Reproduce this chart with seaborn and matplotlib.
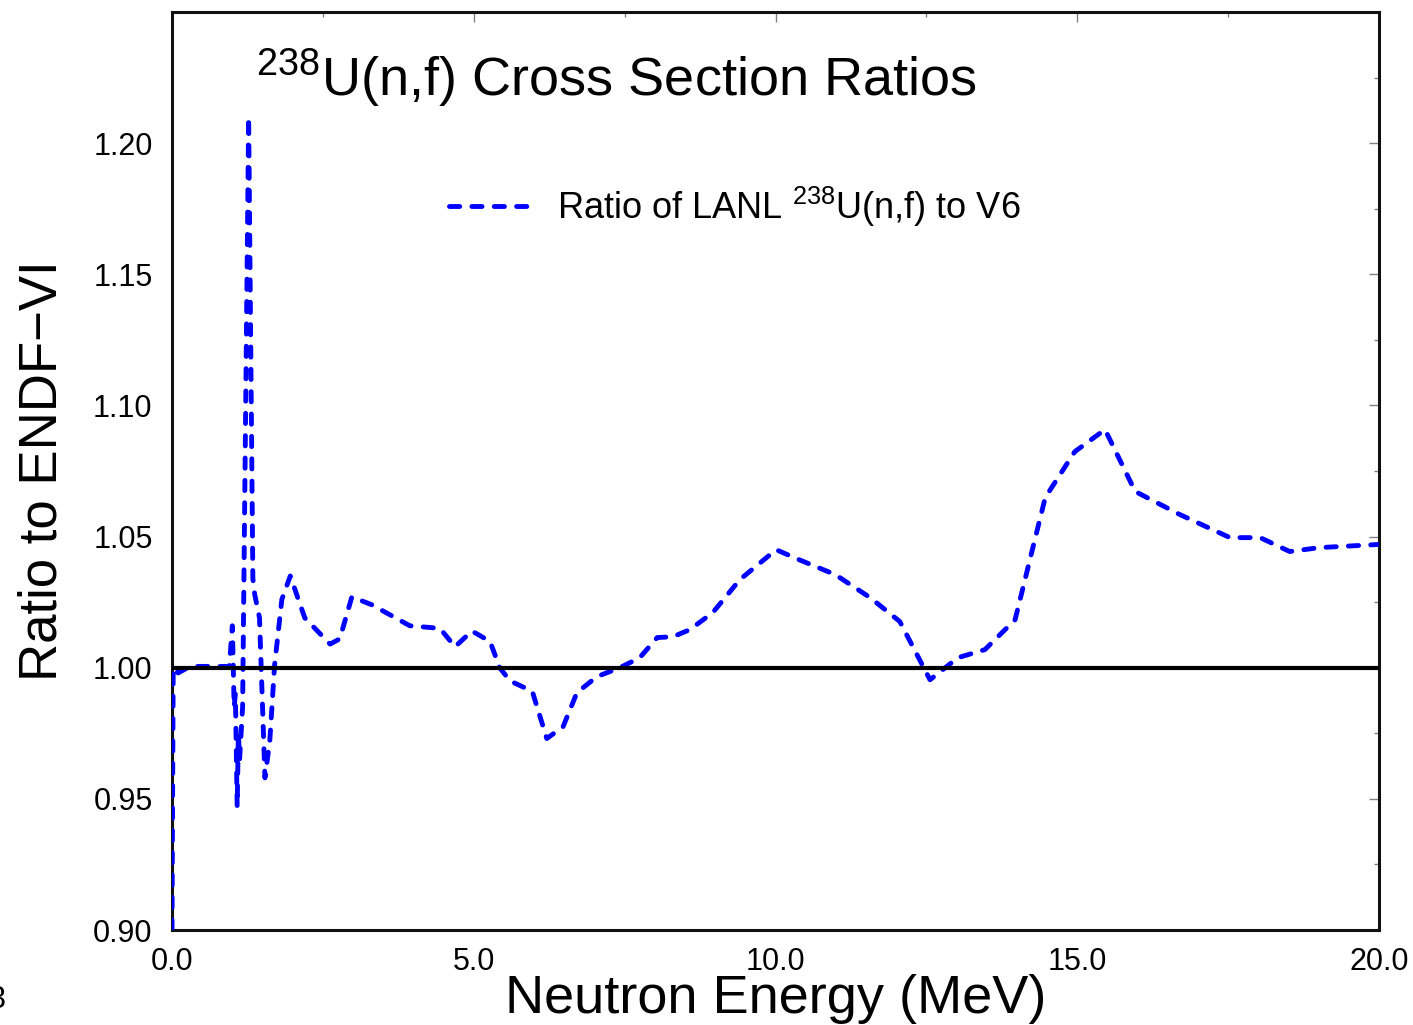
import numpy as np
import pandas as pd
import matplotlib
matplotlib.use("Agg")
import matplotlib.pyplot as plt
from matplotlib.ticker import MultipleLocator, FormatStrFormatter
import seaborn as sns

# Neutron energy (MeV) and ratio of the LANL 238U(n,f) evaluation to ENDF/B-VI
energy = [0.0, 0.02, 0.10, 0.30, 0.60, 0.95, 1.00, 1.03, 1.05, 1.08, 1.10, 1.12,
          1.17, 1.27, 1.34, 1.37, 1.45, 1.54, 1.62, 1.70, 1.82, 1.96, 2.20, 2.62,
          2.78, 2.98, 3.31, 3.94, 4.44, 4.69, 4.97, 5.27, 5.43, 5.60, 5.97, 6.21,
          6.48, 6.71, 7.04, 7.42, 7.75, 8.04, 8.30, 8.58, 8.96, 9.41, 10.01, 10.41,
          10.99, 11.57, 12.06, 12.56, 13.02, 13.47, 13.97, 14.47, 14.96, 15.46,
          15.96, 16.70, 17.53, 18.03, 18.52, 19.02, 20.0]
ratio = [0.900, 1.000, 0.998, 1.0005, 1.0005, 1.0005, 1.016, 0.985, 0.990, 0.947,
         0.975, 0.965, 0.985, 1.210, 1.034, 1.028, 1.019, 0.958, 0.972, 1.001,
         1.026, 1.035, 1.019, 1.009, 1.011, 1.027, 1.024, 1.016, 1.015, 1.008,
         1.014, 1.010, 1.000, 0.995, 0.991, 0.973, 0.9775, 0.9905, 0.9966, 1.000,
         1.0038, 1.0115, 1.0118, 1.0145, 1.021, 1.0336, 1.045, 1.041, 1.0355,
         1.0267, 1.0176, 0.9954, 1.0038, 1.0069, 1.0183, 1.0649, 1.0824, 1.0908,
         1.0672, 1.0584, 1.0496, 1.0496, 1.0443, 1.0458, 1.047]

x_ticks = [0.0, 5.0, 10.0, 15.0, 20.0]
y_ticks = [0.90, 0.95, 1.00, 1.05, 1.10, 1.15, 1.20]

df = pd.DataFrame({"energy": energy, "ratio": ratio})

sns.set_theme(style="white")
plt.rcParams["font.family"] = ["Liberation Sans", "DejaVu Sans"]
plt.rcParams["mathtext.fontset"] = "custom"
plt.rcParams["mathtext.rm"] = "Liberation Sans"
plt.rcParams["mathtext.it"] = "Liberation Sans"
plt.rcParams["mathtext.bf"] = "Liberation Sans"
plt.rcParams["text.color"] = "black"
plt.rcParams["axes.labelcolor"] = "black"
plt.rcParams["xtick.labelcolor"] = "black"
plt.rcParams["ytick.labelcolor"] = "black"

fig = plt.figure(figsize=(14.13, 10.25), dpi=100)
ax = fig.add_axes([172 / 1413, 1 - 930 / 1025, (1379 - 172) / 1413, (930 - 12) / 1025])

# reference line at unity
ax.axhline(1.0, color="black", lw=3.0, zorder=4)

sns.lineplot(data=df, x="energy", y="ratio", ax=ax, sort=False, estimator=None,
             color="#0000ff", lw=3.5, label=r"Ratio of LANL $^{238}$U(n,f) to V6",
             zorder=3)
line = ax.lines[-1]
line.set_dashes((2.1, 2.5))
line.set_dash_capstyle("round")

ax.set_xlim(0, 20)
ax.set_ylim(0.90, 1.25)
ax.set_xticks(x_ticks)
ax.set_yticks(y_ticks)
ax.xaxis.set_minor_locator(MultipleLocator(2.5))
ax.yaxis.set_minor_locator(MultipleLocator(0.025))
ax.xaxis.set_major_formatter(FormatStrFormatter("%.1f"))
ax.yaxis.set_major_formatter(FormatStrFormatter("%.2f"))
ax.tick_params(which="both", direction="in", top=True, right=True,
               color="#808080", width=1.0, labelsize=22, labelcolor="black")
ax.tick_params(which="major", length=7)
ax.tick_params(which="minor", length=3.5)
ax.tick_params(axis="x", pad=12)
ax.tick_params(axis="y", pad=14)
for s in ax.spines.values():
    s.set_color("#111111")
    s.set_linewidth(2.2)

ax.set_xlabel("Neutron Energy (MeV)", fontsize=39, labelpad=-2, color="black")
ax.set_ylabel("Ratio to ENDF\u2212VI", fontsize=38, labelpad=18, color="black")

ax.text(0.368, 0.928, r"$^{238}$U(n,f) Cross Section Ratios", transform=ax.transAxes,
        ha="center", va="center", fontsize=39, color="black")

leg = ax.legend(loc="center left", bbox_to_anchor=((449 - 172) / 1207, 1 - (207 - 12) / 918),
                frameon=False, fontsize=26, handlelength=2.2, handletextpad=0.8,
                borderpad=0, borderaxespad=0)
for t in leg.get_texts():
    t.set_color("black")
for h in leg.get_lines():
    h.set_dashes((2.1, 2.5))
    h.set_dash_capstyle("round")

fig.text(6 / 1413, 1 - 1000 / 1025, "3", ha="right", va="center", fontsize=22,
         color="black")

fig.savefig("out.png", dpi=100)
